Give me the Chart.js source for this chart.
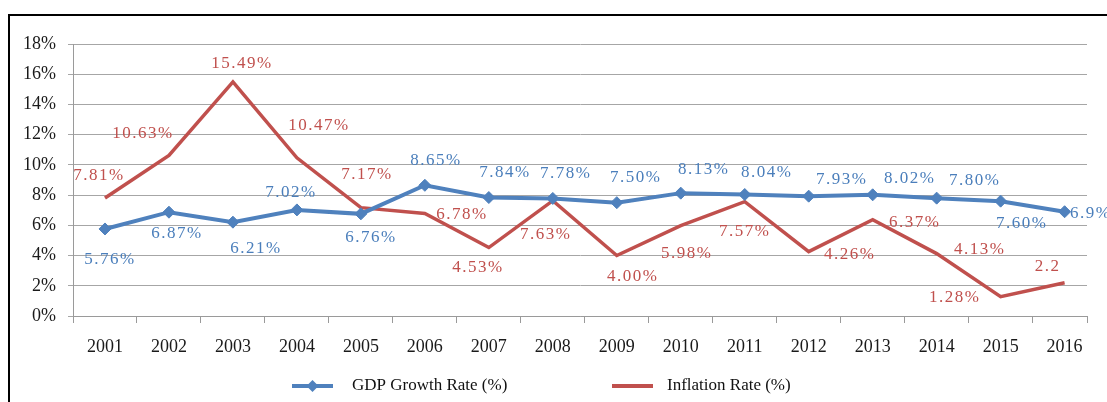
<!DOCTYPE html>
<html><head><meta charset="utf-8">
<script src="https://cdn.jsdelivr.net/npm/chart.js@4.4.1/dist/chart.umd.min.js"></script>
<style>html,body{margin:0;padding:0;background:#fff;overflow:hidden}#wrap{width:1107px;height:402px;position:relative}</style>
</head><body><div id="wrap"><canvas id="c" width="1107" height="402"></canvas></div>
<script>
const years = [2001,2002,2003,2004,2005,2006,2007,2008,2009,2010,2011,2012,2013,2014,2015,2016];
const gdpGrowth = [5.76,6.87,6.21,7.02,6.76,8.65,7.84,7.78,7.50,8.13,8.04,7.93,8.02,7.80,7.60,6.9];
const inflation = [7.81,10.63,15.49,10.47,7.17,6.78,4.53,7.63,4.00,5.98,7.57,4.26,6.37,4.13,1.28,2.2];
const gdpLabels = ['5.76%','6.87%','6.21%','7.02%','6.76%','8.65%','7.84%','7.78%','7.50%','8.13%','8.04%','7.93%','8.02%','7.80%','7.60%','6.9%'];
const inflLabels = ['7.81%','10.63%','15.49%','10.47%','7.17%','6.78%','4.53%','7.63%','4.00%','5.98%','7.57%','4.26%','6.37%','4.13%','1.28%','2.2'];
const yTickValues = [0,2,4,6,8,10,12,14,16,18];
const seriesNames = ['GDP Growth Rate (%)','Inflation Rate (%)'];

// label placement offsets (style only)
const gdpLabelOffsets = [[5,31],[8,21],[23,26],[-6,-17],[10,24],[11,-25],[16,-25],[13,-25],[19,-25],[23,-24],[22,-22],[33,-17],[37,-16],[38,-18],[21,22],[26,2]];
const inflLabelOffsets = [[-6,-22],[-26,-22],[9,-18],[22,-32],[6,-33],[37,1],[-11,20],[-7,34],[16,21],[6,28],[0,30],[41,3],[42,3],[43,-4],[-46,1],[-17,-16]];

const BLUE = '#4F81BD', RED = '#C0504D';
const xMin = years[0] - 0.5, xMax = years[years.length-1] + 0.35;
const boundaries = years.map(y => y - 0.5).concat([xMax]);

const framePlugin = {
  id: 'frame',
  beforeDraw(chart) {
    const c = chart.ctx;
    c.save();
    c.fillStyle = '#fff';
    c.fillRect(0, 0, chart.width, chart.height);
    c.strokeStyle = '#000';
    c.lineWidth = 2;
    c.beginPath();
    c.moveTo(8, 15); c.lineTo(chart.width, 15);
    c.moveTo(9, 14); c.lineTo(9, chart.height);
    c.stroke();
    c.restore();
  }
};

const labelPlugin = {
  id: 'dataLabels',
  afterDatasetsDraw(chart) {
    const c = chart.ctx;
    const sets = [
      {meta: chart.getDatasetMeta(0), labels: gdpLabels, off: gdpLabelOffsets, color: '#4A7EBB'},
      {meta: chart.getDatasetMeta(1), labels: inflLabels, off: inflLabelOffsets, color: '#C0504D'}
    ];
    c.save();
    c.font = '17px "Liberation Serif"';
    try { c.letterSpacing = '1.5px'; } catch (e) {}
    c.textAlign = 'center';
    c.textBaseline = 'middle';
    sets.forEach(s => {
      c.fillStyle = s.color;
      s.meta.data.forEach((pt, i) => {
        c.fillText(s.labels[i], pt.x + s.off[i][0], pt.y + s.off[i][1]);
      });
    });
    c.restore();
  }
};

const legendPlugin = {
  id: 'customLegend',
  afterDraw(chart) {
    const c = chart.ctx;
    const items = [
      {x1: 292, x2: 333, tx: 352, color: BLUE, marker: true, text: chart.data.datasets[0].label},
      {x1: 612, x2: 653, tx: 667, color: RED, marker: false, text: chart.data.datasets[1].label}
    ];
    const y = 386;
    c.save();
    items.forEach(it => {
      c.strokeStyle = it.color;
      c.lineWidth = 4;
      c.beginPath(); c.moveTo(it.x1, y); c.lineTo(it.x2, y); c.stroke();
      if (it.marker) {
        const mx = (it.x1 + it.x2) / 2, r = 6;
        c.fillStyle = it.color;
        c.beginPath();
        c.moveTo(mx, y - r); c.lineTo(mx + r, y); c.lineTo(mx, y + r); c.lineTo(mx - r, y); c.closePath();
        c.fill();
      }
      c.fillStyle = '#111';
      c.font = '17px "Liberation Serif"';
      c.textAlign = 'left';
      c.textBaseline = 'middle';
      c.fillText(it.text, it.tx, y);
    });
    c.restore();
  }
};

const tickFont = {family: 'Liberation Serif', size: 18};

new Chart(document.getElementById('c'), {
  type: 'line',
  data: {
    datasets: [
      {label: seriesNames[0], data: years.map((y, i) => ({x: y, y: gdpGrowth[i]})),
       borderColor: BLUE, backgroundColor: BLUE, borderWidth: 4, pointStyle: 'rectRot',
       pointRadius: 6, pointBorderWidth: 1, pointBorderColor: BLUE, tension: 0, xAxisID: 'x', yAxisID: 'y'},
      {label: seriesNames[1], data: years.map((y, i) => ({x: y, y: inflation[i]})),
       borderColor: RED, backgroundColor: RED, borderWidth: 3.5, pointRadius: 0, tension: 0, xAxisID: 'x', yAxisID: 'y'}
    ]
  },
  options: {
    responsive: false, animation: false, devicePixelRatio: 1,
    layout: {padding: {left: 0, top: 44, right: 20, bottom: 46}},
    plugins: {legend: {display: false}, tooltip: {enabled: false}},
    scales: {
      x: {
        type: 'linear', position: 'bottom', min: xMin, max: xMax, weight: 1,
        afterBuildTicks: s => { s.ticks = years.map(v => ({value: v})); },
        ticks: {callback: v => String(v), font: tickFont, color: '#1a1a1a', padding: 12, maxRotation: 0, autoSkip: false},
        grid: {display: false}, border: {display: false},
        afterFit: s => { s.height = 40; s.paddingLeft = 0; s.paddingRight = 0; }
      },
      xt: {
        type: 'linear', position: 'bottom', min: xMin, max: xMax, weight: 0,
        afterBuildTicks: s => { s.ticks = boundaries.map(v => ({value: v})); },
        ticks: {display: false},
        grid: {drawOnChartArea: false, tickLength: 7, color: '#9a9a9a'},
        border: {display: true, color: '#9a9a9a'},
        afterFit: s => { s.height = 0; s.paddingLeft = 0; s.paddingRight = 0; }
      },
      y: {
        min: 0, max: 18,
        afterBuildTicks: s => { s.ticks = yTickValues.map(v => ({value: v})); },
        ticks: {callback: v => v + '%', font: tickFont, color: '#1a1a1a', padding: 12},
        grid: {color: '#a6a6a6', tickLength: 5},
        border: {color: '#9a9a9a'},
        afterFit: s => { s.width = 73; s.paddingTop = 0; s.paddingBottom = 0; }
      }
    }
  },
  plugins: [framePlugin, labelPlugin, legendPlugin]
});
</script></body></html>
